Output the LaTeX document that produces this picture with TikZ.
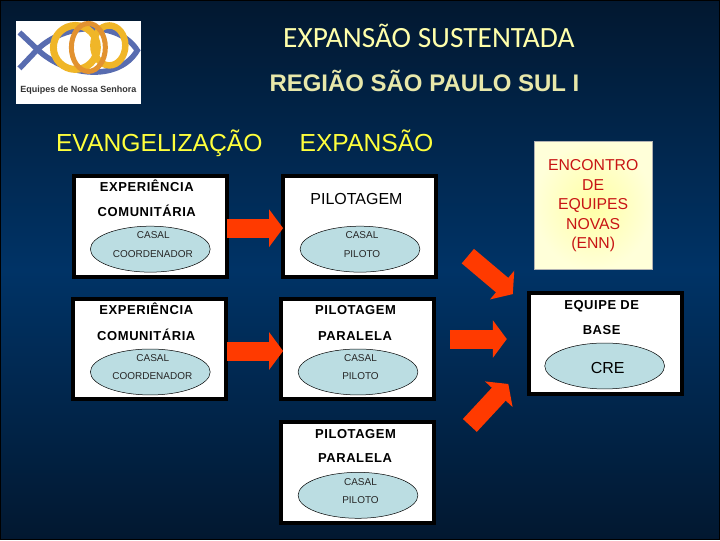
\documentclass[tikz,border=0pt]{standalone}
\usepackage{fontspec}
\setmainfont{Liberation Sans}
\newfontfamily\titlefont{Carlito}
\usetikzlibrary{arrows.meta,shapes.geometric}
\definecolor{mydarknavy}{RGB}{2,24,48}
\definecolor{mynavy}{RGB}{0,51,102}
\definecolor{mypaleyellow}{RGB}{255,255,170}
\definecolor{mygreyyellow}{RGB}{232,232,170}
\definecolor{myyellow}{RGB}{255,255,60}
\definecolor{myorange}{RGB}{255,58,0}
\definecolor{mylightcyan}{RGB}{187,221,226}
\definecolor{mydarkred}{RGB}{200,20,20}
\definecolor{myfishblue}{RGB}{88,108,176}
\definecolor{mygold}{RGB}{240,182,40}
\definecolor{myring}{RGB}{226,146,48}
\tikzset{
  framebox/.style={draw=black,fill=white,line width=4pt,minimum width=153pt,minimum height=101pt,inner sep=0pt},
  oval/.style={ellipse,draw=black,fill=mylightcyan,line width=0.5pt,minimum width=120pt,minimum height=46pt,inner sep=0pt},
  headtext/.style={font=\bfseries\fontsize{13}{15}\selectfont\addfontfeature{LetterSpace=4.5},text=black,inner sep=0pt},
  smalltext/.style={font=\fontsize{10}{12}\selectfont,text=black!85,inner sep=0pt},
  bigtext/.style={font=\fontsize{24.7}{28}\selectfont,text=myyellow,inner sep=0pt,anchor=base},
  flowarrow/.style={myorange,line width=19pt,-{Triangle[length=14pt,width=37pt]}},
}
\begin{document}
\begin{tikzpicture}[x=1pt,y=-1pt]
  \shade[top color=mydarknavy,bottom color=mydarknavy,middle color=mynavy] (0,0) rectangle (720,540);
  \draw[black,line width=1pt] (0,0) rectangle (720,540);

  \fill[white] (15.5,21) rectangle (140.5,103.5);
  \draw[myfishblue,line width=5.5pt] (19,32) -- (37,49) .. controls (65,22) and (118,20) .. (137,50)
    .. controls (118,82) and (65,76) .. (37,49) -- (19,68);
  \draw[mygold,line width=6.5pt] (109,45) ellipse (16pt and 20pt);
  \draw[mygold,line width=7pt] (75,47) circle (22pt);
  \draw[myring,line width=5pt] (88,47) ellipse (17pt and 24pt);
  \node[font=\bfseries\fontsize{9}{11}\selectfont,text=black!80,inner sep=0pt] (logotext) at (78,89.5) {Equipes de Nossa Senhora};

  \node[font=\titlefont\fontsize{29.4}{34}\selectfont,text=mypaleyellow,inner sep=0pt,anchor=base] (title) at (429,47) {EXPANSÃO SUSTENTADA};
  \node[font=\bfseries\fontsize{24}{28}\selectfont,text=mygreyyellow,inner sep=0pt,anchor=base] (region) at (424.5,91) {REGIÃO SÃO PAULO SUL I};
  \node[bigtext] (evang) at (159,151) {EVANGELIZAÇÃO};
  \node[bigtext] (expan) at (366.5,151) {EXPANSÃO};

  \node[framebox] (expbox1) at (150,226) {};
  \node[framebox] (pilbox1) at (359.5,226) {};
  \node[framebox] (expbox2) at (149.5,349) {};
  \node[framebox] (parbox2) at (357.5,349) {};
  \node[framebox] (parbox3) at (357.5,473) {};
  \node[framebox] (basebox) at (605.5,343.5) {};

  \node[draw=black!30,inner color=yellow!35!white,outer color=yellow!15!white,line width=0.8pt,minimum width=118pt,minimum height=128pt,inner sep=0pt,
    align=center,text=mydarkred,font=\fontsize{15.8}{19.5}\selectfont] (enn) at (593.5,205.5) {ENCONTRO\\DE\\EQUIPES\\NOVAS\\(ENN)};

  \node[oval] (oval1) at (150,249) {};
  \node[oval] (oval2) at (360,249) {};
  \node[oval] (oval3) at (150,372) {};
  \node[oval] (oval4) at (358,372) {};
  \node[oval] (oval5) at (358,495.5) {};
  \node[oval] (oval6) at (605,366) {};

  \node[headtext] (exp1a) at (146.5,186) {EXPERIÊNCIA};
  \node[headtext] (exp1b) at (146.5,211) {COMUNITÁRIA};
  \node[font=\fontsize{16}{19}\selectfont,text=black,inner sep=0pt] (pil1) at (356.5,199) {PILOTAGEM};
  \node[smalltext] (cas1) at (153,235) {CASAL};
  \node[smalltext] (coo1) at (152.5,253.5) {COORDENADOR};
  \node[smalltext] (cas2) at (362,235) {CASAL};
  \node[smalltext] (pil2) at (362,253.5) {PILOTO};

  \node[headtext] (exp2a) at (146,309) {EXPERIÊNCIA};
  \node[headtext] (exp2b) at (146,334.5) {COMUNITÁRIA};
  \node[smalltext] (cas3) at (152.5,358) {CASAL};
  \node[smalltext] (coo2) at (152,376.5) {COORDENADOR};
  \node[headtext] (par2a) at (355.5,310) {PILOTAGEM};
  \node[headtext] (par2b) at (355,335.5) {PARALELA};
  \node[smalltext] (cas4) at (360.5,358) {CASAL};
  \node[smalltext] (pil3) at (360.5,376.5) {PILOTO};

  \node[headtext] (par3a) at (355.5,434) {PILOTAGEM};
  \node[headtext] (par3b) at (355,458.5) {PARALELA};
  \node[smalltext] (cas5) at (360.5,482) {CASAL};
  \node[smalltext] (pil4) at (360.5,500.5) {PILOTO};

  \node[headtext] (base1) at (602,306) {EQUIPE DE};
  \node[headtext] (base2) at (602,330) {BASE};
  \node[font=\fontsize{16}{18}\selectfont,text=black,inner sep=0pt] (cre) at (608,368) {CRE};

  \coordinate (tail1) at (227,228);
  \coordinate (head1) at (283,228);
  \coordinate (tail2) at (227,351);
  \coordinate (head2) at (283,351);
  \coordinate (tail3) at (468,256);
  \coordinate (head3) at (513,294);
  \coordinate (tail4) at (450,339);
  \coordinate (head4) at (507,339);
  \coordinate (tail5) at (470,425.5);
  \coordinate (head5) at (508.5,384);
  \draw[flowarrow] (tail1) -- (head1);
  \draw[flowarrow] (tail2) -- (head2);
  \draw[flowarrow] (tail3) -- (head3);
  \draw[flowarrow] (tail4) -- (head4);
  \draw[flowarrow] (tail5) -- (head5);
\end{tikzpicture}
\end{document}
